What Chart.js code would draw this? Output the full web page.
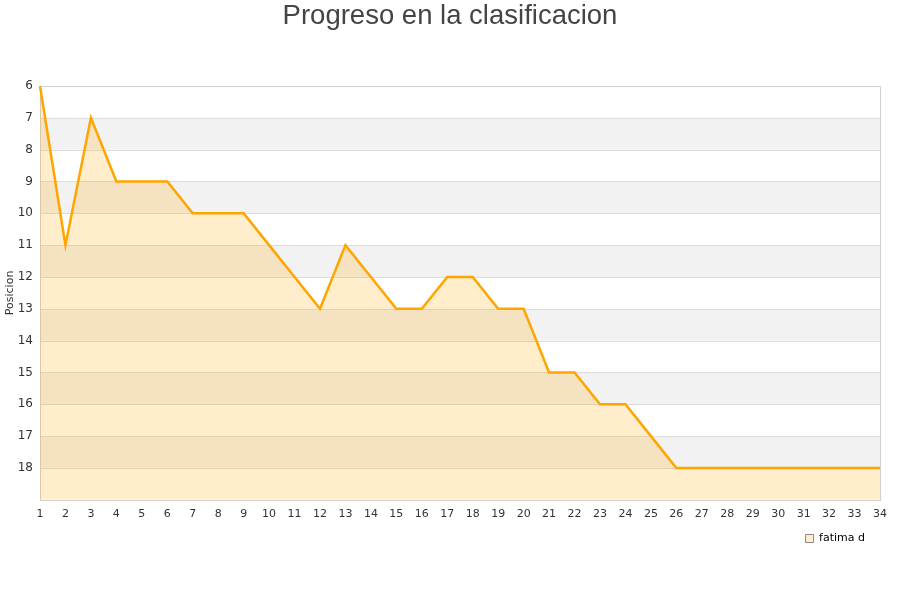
<!DOCTYPE html>
<html>
<head>
<meta charset="utf-8">
<script src="https://cdn.jsdelivr.net/npm/chart.js@4/dist/chart.umd.min.js"></script>
<style>
html,body{margin:0;padding:0;background:#fff;}
#wrap{width:900px;height:600px;position:relative;}
</style>
</head>
<body>
<div id="wrap"><canvas id="c" width="900" height="600"></canvas></div>
<script>
const jornadas = ["1","2","3","4","5","6","7","8","9","10","11","12","13","14","15","16","17","18","19","20","21","22","23","24","25","26","27","28","29","30","31","32","33","34"];
const posiciones = [6,11,7,9,9,9,10,10,10,11,12,13,11,12,13,13,12,12,13,13,15,15,16,16,17,18,18,18,18,18,18,18,18,18];
const serieNombre = "fatima d";
const tituloGrafico = "Progreso en la clasificacion";
const tituloEjeY = "Posicion";
const yMin = 6, yMax = 19;

const bandsPlugin = {
  id: 'bands',
  afterLayout(chart) {
    if (chart.legend) { chart.legend.left -= 11; chart.legend.right -= 11; }
    if (chart.titleBlock) { chart.titleBlock.left += 8; chart.titleBlock.right += 8; }
  },
  beforeDatasetsDraw(chart) {
    const {ctx, chartArea: a, scales: {y}} = chart;
    ctx.save();
    for (let v = yMin; v < yMax; v++) {
      if (v % 2 === 1) {
        const y1 = y.getPixelForValue(v), y2 = y.getPixelForValue(v + 1);
        ctx.fillStyle = '#f2f2f2';
        ctx.fillRect(a.left, Math.min(y1, y2), a.right - a.left, Math.abs(y2 - y1));
      }
    }
    ctx.strokeStyle = '#dddddd';
    ctx.lineWidth = 1;
    for (let v = yMin; v <= yMax; v++) {
      const py = Math.round(y.getPixelForValue(v)) + 0.5;
      ctx.beginPath(); ctx.moveTo(a.left, py); ctx.lineTo(a.right, py); ctx.stroke();
    }
    ctx.strokeStyle = '#d0d0d0';
    ctx.strokeRect(Math.round(a.left) + 0.5, Math.round(a.top) + 0.5, Math.round(a.right - a.left), Math.round(a.bottom - a.top));
    ctx.restore();
  }
};

new Chart(document.getElementById('c'), {
  type: 'line',
  data: {
    labels: jornadas,
    datasets: [{
      label: serieNombre,
      data: posiciones,
      borderColor: '#ffa500',
      backgroundColor: 'rgba(255,165,0,0.2)',
      borderWidth: 2.5,
      pointRadius: 0,
      tension: 0,
      fill: { value: yMax }
    }]
  },
  options: {
    responsive: false,
    animation: false,
    layout: { padding: { left: 4, right: 20, top: 0, bottom: 46 } },
    plugins: {
      title: {
        display: true,
        text: tituloGrafico,
        color: '#444444',
        font: { family: 'Liberation Sans, Arial, sans-serif', size: 27.5, weight: 'normal' },
        padding: { top: 0, bottom: 53 }
      },
      legend: {
        display: true,
        position: 'bottom',
        align: 'end',
        labels: {
          boxWidth: 8,
          boxHeight: 8,
          color: '#222222',
          font: { family: 'DejaVu Sans, sans-serif', size: 11 },
          padding: 4,
          generateLabels: (chart) => [{
            text: serieNombre,
            fillStyle: '#ffedcc',
            strokeStyle: '#888888',
            lineWidth: 1,
            datasetIndex: 0
          }]
        }
      },
      tooltip: { enabled: false }
    },
    scales: {
      x: {
        offset: false,
        grid: { display: false, drawTicks: false },
        border: { display: false },
        ticks: {
          color: '#333333',
          font: { family: 'DejaVu Sans, sans-serif', size: 11 },
          padding: 8,
          maxRotation: 0,
          autoSkip: false
        }
      },
      y: {
        reverse: true,
        min: yMin,
        max: yMax,
        grid: { display: false, drawTicks: false },
        border: { display: false },
        afterFit: (scale) => { scale.width = 36; },
        title: {
          display: true,
          text: tituloEjeY,
          color: '#333333',
          font: { family: 'DejaVu Sans, sans-serif', size: 11 },
          padding: 0
        },
        ticks: {
          stepSize: 1,
          color: '#333333',
          font: { family: 'DejaVu Sans, sans-serif', size: 12 },
          padding: 7,
          callback: (v) => (v === yMax ? '' : v)
        }
      }
    }
  },
  plugins: [bandsPlugin]
});
</script>
</body>
</html>
